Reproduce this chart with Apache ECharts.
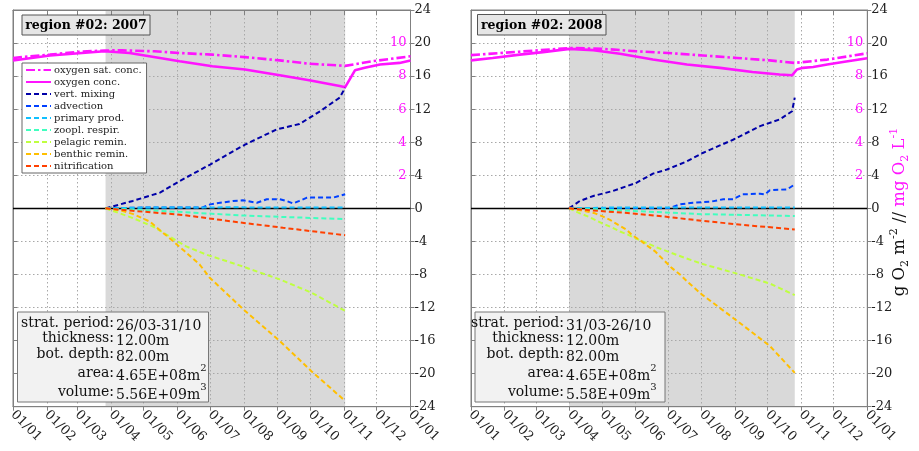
<!DOCTYPE html>
<html><head><meta charset="utf-8">
<script src="https://cdn.jsdelivr.net/npm/echarts@6/dist/echarts.min.js"></script>
<style>html,body{margin:0;padding:0;background:#fff}#c{width:919px;height:451px}</style>
</head><body><div id="c"></div>
<script>
// ---------- tick labels / categories ----------
const months = ['01/01','01/02','01/03','01/04','01/05','01/06','01/07','01/08','01/09','01/10','01/11','01/12','01/01'];
const monthStarts2007 = [0,31,59,90,120,151,181,212,243,273,304,334,365];
const monthStarts2008 = [0,31,60,91,121,152,182,213,244,274,305,335,366];
const seriesNames = ['oxygen sat. conc.','oxygen conc.','vert. mixing','advection','primary prod.','zoopl. respir.','pelagic remin.','benthic remin.','nitrification'];

// stratification period (day of year)
const strat2007 = [85, 305];
const strat2008 = [90.5, 299];

// ---------- 2007 data: [day of year, value] ----------
const satConc2007 = [[0,9.1],[34,9.3],[60,9.47],[84,9.55],[100,9.56],[130,9.5],[153,9.4],[183,9.3],[213,9.15],[245,8.95],[272,8.75],[305,8.62],[330,8.9],[365,9.2]];
const oxyConc2007 = [[0,8.95],[34,9.25],[84,9.5],[107,9.4],[153,8.9],[183,8.6],[213,8.4],[245,8.05],[272,7.75],[300,7.4],[305,7.33],[314,8.35],[323,8.5],[337,8.7],[355,8.8],[365,8.95]];
const vertMix2007 = [[85,0],[110,0.9],[135,1.9],[153,3.3],[181,5.3],[202,6.9],[213,7.7],[242,9.55],[263,10.2],[282,11.75],[300,13.4],[305,14.6]];
const advection2007 = [[85,0],[120,0.1],[174,0.1],[181,0.48],[202,0.9],[211,0.97],[224,0.68],[233,1.1],[245,1.1],[251,0.9],[257,0.6],[263,0.9],[270,1.3],[294,1.3],[305,1.7]];
const primProd2007 = [[85,0],[120,0.1],[200,0.12],[305,0.1]];
const zoopResp2007 = [[85,0],[110,-0.15],[156,-0.45],[208,-0.85],[250,-1.05],[305,-1.3]];
const pelRemin2007 = [[85,0],[98,-0.6],[110.5,-1.2],[128.6,-2.2],[150,-3.9],[159,-4.6],[177.6,-5.6],[208,-6.9],[245,-8.6],[274,-10.2],[305,-12.4]];
const benRemin2007 = [[85,0],[100,-0.3],[110.5,-0.7],[125.6,-1.6],[136.3,-2.8],[145.5,-3.8],[157.7,-5.2],[171.4,-6.8],[180.7,-8.4],[213,-12.4],[245,-16.05],[274,-19.7],[305,-23.3]];
const nitrif2007 = [[85,0],[110,-0.3],[156,-0.8],[208,-1.7],[248,-2.35],[305,-3.25]];

// ---------- 2008 data ----------
const satConc2008 = [[0,9.27],[45,9.48],[91,9.7],[122,9.65],[153,9.5],[182,9.4],[214,9.25],[245.6,9.1],[276,8.95],[299,8.8],[329,9.0],[366,9.38]];
const oxyConc2008 = [[0,8.95],[20,9.1],[45,9.3],[66.5,9.45],[91,9.65],[113,9.57],[137.6,9.35],[168,9.0],[199.5,8.7],[230,8.5],[260,8.25],[285,8.1],[296.5,8.05],[301,8.4],[306.6,8.5],[316,8.55],[329,8.7],[343.5,8.85],[366,9.08]];
const vertMix2008 = [[90.5,0],[100.6,0.9],[113,1.5],[131,2.1],[153,3.1],[168,4.2],[181,4.7],[199.5,5.7],[214,6.7],[242,8.3],[267,9.95],[285,10.75],[296.5,11.75],[299,13.4]];
const advection2008 = [[90.5,0],[130,0.05],[184,0.05],[193,0.48],[205,0.68],[221,0.8],[233,1.1],[242,1.1],[251,1.7],[267,1.77],[271.5,1.7],[276,2.2],[292,2.3],[299,2.9]];
const primProd2008 = [[90.5,0],[130,0.1],[220,0.1],[299,0.1]];
const zoopResp2008 = [[90.5,0],[120,-0.15],[148,-0.3],[213,-0.7],[260,-0.82],[299,-0.93]];
const pelRemin2008 = [[90.5,0],[100.6,-0.6],[108.4,-1.0],[120.7,-1.8],[130,-2.3],[137.6,-2.8],[145.3,-3.2],[153,-3.7],[162.3,-4.2],[173,-4.8],[185.3,-5.4],[197.6,-6.0],[213,-6.7],[245.6,-7.9],[276,-9.1],[299,-10.5]];
const benRemin2008 = [[90.5,0],[108,-0.4],[114.5,-0.6],[122,-1.0],[128.4,-1.4],[136,-2.0],[143.8,-2.6],[148.4,-3.2],[157.6,-4.0],[163.7,-4.6],[170,-5.2],[177.6,-6.2],[185.3,-7.2],[193,-8.0],[199.2,-8.8],[213,-10.4],[245.6,-13.6],[276,-16.65],[299,-19.9]];
const nitrif2008 = [[90.5,0],[117,-0.3],[148,-0.6],[179,-1.0],[213,-1.5],[251,-2.0],[299,-2.55]];

// ---------- info texts ----------
const titles = ['region #02: 2007', 'region #02: 2008'];
const infoLabels = ['strat. period:', 'thickness:', 'bot. depth:', 'area:', 'volume:'];
const infoValues2007 = ['26/03-31/10', '12.00m', '82.00m', '4.65E+08m', '5.56E+09m'];
const infoValues2008 = ['31/03-26/10', '12.00m', '82.00m', '4.65E+08m', '5.58E+09m'];
const infoPowers = ['', '', '', '2', '3'];

// ---------- styles ----------
const FONT = 'DejaVu Serif';
const MAG = '#ff14ff';
const colors = ['#0000a8', '#0040ff', '#10c0ff', '#40ffbf', '#bfff40', '#ffbf00', '#ff4000'];
const GRIDC = '#a8a8a8';

const panels = [
  { ms: monthStarts2007, strat: strat2007, title: titles[0], vals: infoValues2007,
    d: [satConc2007, oxyConc2007, vertMix2007, advection2007, primProd2007, zoopResp2007, pelRemin2007, benRemin2007, nitrif2007],
    grid: {left: 13, top: 10, width: 397.5, height: 396.7},
    tbox: [22, 15, 128, 20], ibox: [17.5, 312, 191, 90], ilab: 114 },
  { ms: monthStarts2008, strat: strat2008, title: titles[1], vals: infoValues2008,
    d: [satConc2008, oxyConc2008, vertMix2008, advection2008, primProd2008, zoopResp2008, pelRemin2008, benRemin2008, nitrif2008],
    grid: {left: 471, top: 10, width: 396.3, height: 396.7},
    tbox: [477.5, 14.5, 128.5, 20.5], ibox: [475, 312, 190, 90], ilab: 564 }
];

const grid = [], xAxis = [], yAxis = [], series = [], graphic = [];
panels.forEach((p, i) => {
  grid.push(Object.assign({show: true, borderColor: '#808080', borderWidth: 1, backgroundColor: 'transparent'}, p.grid));
  xAxis[i] = {
    gridIndex: i, type: 'value', min: 0, max: p.ms[p.ms.length - 1], position: 'bottom',
    axisLine: {onZero: false, lineStyle: {color: '#808080'}},
    axisTick: {customValues: p.ms, length: 4, lineStyle: {color: '#808080'}},
    axisLabel: {customValues: p.ms, formatter: v => months[p.ms.indexOf(v)], rotate: -45,
      fontFamily: FONT, fontSize: 13, color: '#222', margin: 6},
    splitLine: {show: true, lineStyle: {color: GRIDC, type: [1.5, 2.5], width: 1}}
  };
  // top frame ticks (inward)
  xAxis[2 + i] = {
    gridIndex: i, type: 'value', min: 0, max: p.ms[p.ms.length - 1], position: 'top',
    axisLine: {onZero: false, lineStyle: {color: '#808080'}},
    axisTick: {customValues: p.ms, inside: true, length: 5, lineStyle: {color: '#808080'}},
    axisLabel: {show: false}, splitLine: {show: false}
  };
  yAxis.push({
    gridIndex: i, type: 'value', min: -24, max: 24, interval: 4, position: 'left',
    axisLine: {onZero: false, lineStyle: {color: '#808080'}},
    axisTick: {inside: true, length: 4, lineStyle: {color: '#808080'}},
    axisLabel: {show: false},
    splitLine: {show: true, lineStyle: {color: GRIDC, type: [1.5, 2.5], width: 1}}
  });
  yAxis.push({
    gridIndex: i, type: 'value', min: -24, max: 24, interval: 4, position: 'right',
    axisLine: {onZero: false, lineStyle: {color: '#808080'}},
    axisTick: {length: 4, lineStyle: {color: '#808080'}},
    axisLabel: {fontFamily: FONT, fontSize: 13, color: '#222', margin: 4},
    splitLine: {show: false}
  });
  yAxis.push({
    gridIndex: i, type: 'value', min: -12, max: 12, interval: 2, position: 'right',
    axisLine: {show: false, onZero: false}, axisTick: {show: false},
    axisLabel: {inside: true, margin: 4, color: MAG, fontFamily: FONT, fontSize: 13,
      formatter: v => (v > 0 && v < 12) ? String(v) : ''},
    splitLine: {show: false}
  });
  const yL = 3 * i, yP = 3 * i + 2;
  // stratification shading
  series.push({
    type: 'line', name: 'strat', xAxisIndex: i, yAxisIndex: yL, data: [], silent: true, z: -1,
    markArea: {silent: true, z: -1, itemStyle: {color: '#d9d9d9'}, label: {show: false},
      data: [[{xAxis: p.strat[0]}, {xAxis: p.strat[1]}]]}
  });
  seriesNames.forEach((nm, k) => {
    const isO2 = k < 2;
    const s = {
      type: 'line', name: nm, xAxisIndex: i, yAxisIndex: isO2 ? yP : yL, data: p.d[k],
      symbol: 'none', showSymbol: false, animation: false, z: 3,
      lineStyle: isO2 ? {color: MAG, width: 2.6, type: k === 0 ? [9, 3, 2.5, 3] : 'solid'}
                      : {color: colors[k - 2], width: 2, type: [5, 3]},
      itemStyle: {color: isO2 ? MAG : colors[k - 2]}
    };
    if (k === 2) {
      s.markLine = {silent: true, symbol: 'none', label: {show: false}, z: 2,
        lineStyle: {color: '#000', width: 1.3, type: 'solid'}, data: [{yAxis: 0}]};
    }
    series.push(s);
  });

  // title box
  const [tx, ty, tw, th] = p.tbox;
  graphic.push({type: 'rect', shape: {x: tx, y: ty, width: tw, height: th}, style: {fill: '#e6e6e6', stroke: '#555', lineWidth: 1}, z: 10});
  graphic.push({type: 'text', x: tx + tw / 2, y: ty + th / 2 + 0.5, z: 11,
    style: {text: p.title, font: 'bold 12.5px "DejaVu Serif"', fill: '#000', align: 'center', verticalAlign: 'middle'}});

  // info box
  const [bx, by, bw, bh] = p.ibox;
  graphic.push({type: 'rect', shape: {x: bx, y: by, width: bw, height: bh}, style: {fill: '#f2f2f2', stroke: '#777', lineWidth: 1}, z: 10});
  const rowsY = [323, 338.5, 354, 373, 392];
  infoLabels.forEach((lab, r) => {
    graphic.push({type: 'text', x: p.ilab, y: rowsY[r], z: 11,
      style: {text: lab, font: '14px "DejaVu Serif"', fill: '#111', align: 'right', verticalAlign: 'middle'}});
    const txt = infoPowers[r] ? '{v|' + p.vals[r] + '}{s|' + infoPowers[r] + '}' : '{v|' + p.vals[r] + '}';
    graphic.push({type: 'text', x: p.ilab + 2, y: rowsY[r], z: 11,
      style: {text: txt, align: 'left', verticalAlign: 'middle',
        rich: {v: {fontFamily: FONT, fontSize: 14, fill: '#111', lineHeight: 20, verticalAlign: 'bottom'},
               s: {fontFamily: FONT, fontSize: 10, fill: '#111', lineHeight: 20, verticalAlign: 'top'}}}});
  });
});

// right-hand axis title
const rt = {fontFamily: FONT, fontSize: 16.5, lineHeight: 22};
graphic.push({type: 'text', x: 900, y: 212, rotation: Math.PI / 2, z: 11,
  style: {text: '{b|g O}{bs|2}{b| m}{bp|-2}{b| // }{p|mg O}{ps|2}{p| L}{pp|-1}', align: 'center', verticalAlign: 'middle',
    rich: {
      b: Object.assign({fill: '#111', verticalAlign: 'middle'}, rt),
      bs: {fontFamily: FONT, fontSize: 11, lineHeight: 22, fill: '#111', verticalAlign: 'bottom'},
      bp: {fontFamily: FONT, fontSize: 11, lineHeight: 22, fill: '#111', verticalAlign: 'top'},
      p: Object.assign({fill: MAG, verticalAlign: 'middle'}, rt),
      ps: {fontFamily: FONT, fontSize: 11, lineHeight: 22, fill: MAG, verticalAlign: 'bottom'},
      pp: {fontFamily: FONT, fontSize: 11, lineHeight: 22, fill: MAG, verticalAlign: 'top'}
    }}});

const chart = echarts.init(document.getElementById('c'), null, {renderer: 'canvas'});
chart.setOption({
  animation: false,
  backgroundColor: '#fff',
  textStyle: {fontFamily: FONT},
  grid, xAxis, yAxis, series, graphic,
  legend: {
    data: seriesNames, orient: 'vertical', left: 22, top: 63, selectedMode: false,
    backgroundColor: '#fff', borderColor: '#666', borderWidth: 1, padding: [2, 5, 2, 3],
    itemWidth: 25, itemHeight: 12, itemGap: 2,
    itemStyle: {opacity: 0},
    lineStyle: {width: 2},
    textStyle: {fontFamily: FONT, fontSize: 10, color: '#222', padding: [0, 0, 0, -2]}
  }
});
</script>
</body></html>
